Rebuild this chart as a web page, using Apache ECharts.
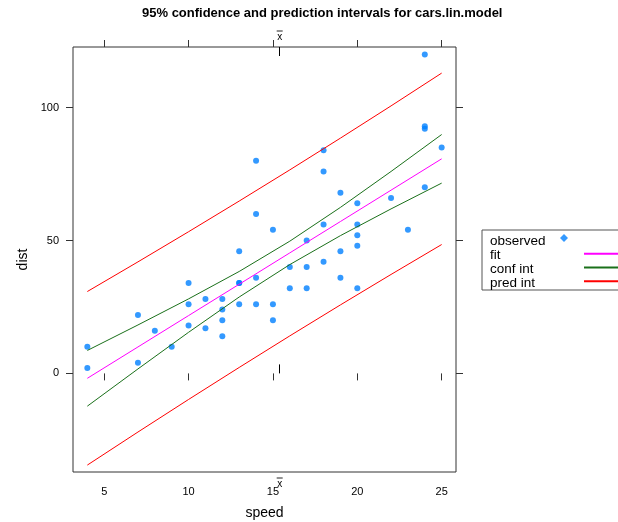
<!DOCTYPE html>
<html>
<head>
<meta charset="utf-8">
<script src="https://cdn.jsdelivr.net/npm/echarts@6/dist/echarts.min.js"></script>
<style>
  html, body { margin: 0; padding: 0; background: #fff; }
  #main { width: 618px; height: 522px; }
</style>
</head>
<body>
<div id="main"></div>
<script>
// observed cars data
const speed = [4, 4, 7, 7, 8, 9, 10, 10, 10, 11, 11, 12, 12, 12, 12, 13, 13, 13, 13, 14, 14, 14, 14,
  15, 15, 15, 16, 16, 17, 17, 17, 18, 18, 18, 18, 19, 19, 19, 20, 20, 20, 20, 20, 22, 23, 24, 24, 24, 24, 25];
const dist = [2, 10, 4, 22, 16, 10, 18, 26, 34, 17, 28, 14, 20, 24, 28, 26, 34, 34, 46, 26, 36, 60, 80,
  20, 26, 54, 32, 40, 32, 40, 50, 42, 56, 76, 84, 36, 46, 68, 32, 48, 52, 56, 64, 66, 54, 70, 92, 93, 120, 85];

// fitted line and intervals, read at these speeds
const lineX = [4, 7, 10, 13, 16, 19, 22, 25];
const fit = [-1.85, 9.95, 21.75, 33.54, 45.34, 57.14, 68.93, 80.73];
const confLo = [-12.33, 1.68, 15.46, 28.73, 40.94, 51.83, 61.89, 71.59];
const confHi = [8.63, 18.22, 28.03, 38.35, 49.74, 62.45, 75.97, 89.87];
const predLo = [-34.5, -22.06, -9.81, 2.24, 14.11, 25.77, 37.22, 48.48];
const predHi = [30.8, 41.96, 53.3, 64.84, 76.57, 88.51, 100.64, 112.98];

const xTicks = [5, 10, 15, 20, 25];
const yTicks = [0, 50, 100];
const xBar = 15.4;

const pair = ys => lineX.map((x, i) => [x, ys[i]]);
const axisCol = '#333';
const font = 'Arial, "Liberation Sans", sans-serif';
const lineIcon = 'path://M0,0H40V2H0Z';

const lineSeries = (name, ys, color) => ({
  name, type: 'line', data: pair(ys), symbol: 'none', silent: true,
  lineStyle: { color, width: 1 }, itemStyle: { color }
});

const xBase = {
  type: 'value', min: 3.15, max: 25.85, gridIndex: 0,
  axisLine: { show: false }, splitLine: { show: false }
};
const yBase = {
  type: 'value', min: -37.1, max: 122.8,
  axisLine: { show: false }, splitLine: { show: false }
};
// x-bar label: a short bar above an x
const barLabel = {
  color: '#000', customValues: [xBar],
  formatter: () => '{o| }\n{x|x}',
  rich: {
    o: { width: 6, height: 1, lineHeight: 4, backgroundColor: '#222', fontSize: 4 },
    x: { fontFamily: font, fontSize: 10, lineHeight: 9, color: '#000' }
  }
};

const chart = echarts.init(document.getElementById('main'));
chart.setOption({
  animation: false,
  title: {
    text: '95% confidence and prediction intervals for cars.lin.model',
    left: 142, top: 7, padding: 0,
    textStyle: { fontFamily: font, fontSize: 13, fontWeight: 'bold', color: '#000' }
  },
  grid: {
    left: 73, right: 162, top: 47, bottom: 50, outerBoundsMode: 'none',
    show: true, borderColor: axisCol, borderWidth: 1, backgroundColor: '#fff'
  },
  legend: [{
    // text column with the box
    orient: 'vertical', left: 482, top: 230,
    data: ['observed', 'fit', 'conf int', 'pred int'],
    icon: 'none', itemWidth: 0, itemHeight: 13.7, itemGap: 0,
    padding: [4, 0, 0, 3],
    borderColor: '#555', borderWidth: 1,
    textStyle: { fontFamily: font, fontSize: 13.5, color: '#000', width: 150, lineHeight: 13.7 },
    selectedMode: false
  }, {
    // line keys
    orient: 'vertical', left: 584, top: 247,
    data: ['fit', 'conf int', 'pred int'],
    icon: lineIcon, itemWidth: 40, itemHeight: 13.7, itemGap: 0, padding: 0,
    formatter: () => ' ',
    textStyle: { fontSize: 10, lineHeight: 13.7 },
    selectedMode: false
  }, {
    // point key
    orient: 'vertical', left: 560, top: 234,
    data: ['observed'], icon: 'diamond',
    itemWidth: 8, itemHeight: 8, padding: 0,
    formatter: () => '',
    selectedMode: false
  }],
  xAxis: [
    Object.assign({}, xBase, {
      position: 'bottom', name: 'speed', nameLocation: 'middle', nameGap: 34,
      nameTextStyle: { fontFamily: font, fontSize: 14, color: '#000' },
      axisTick: { show: true, length: 7, lineStyle: { color: axisCol }, customValues: xTicks },
      axisLabel: { fontFamily: font, fontSize: 11, color: '#000', margin: 14, customValues: xTicks }
    }),
    Object.assign({}, xBase, {
      position: 'bottom',
      axisTick: { show: true, inside: true, length: 9, lineStyle: { color: '#000' }, customValues: [xBar] },
      axisLabel: Object.assign({ margin: 4 }, barLabel)
    }),
    Object.assign({}, xBase, {
      position: 'top',
      axisTick: { show: true, length: 7, lineStyle: { color: axisCol }, customValues: xTicks },
      axisLabel: { show: false }
    }),
    Object.assign({}, xBase, {
      position: 'top',
      axisTick: { show: true, inside: true, length: 9, lineStyle: { color: '#000' }, customValues: [xBar] },
      axisLabel: Object.assign({ margin: 5 }, barLabel)
    })
  ],
  yAxis: [
    Object.assign({}, yBase, {
      position: 'left', name: 'dist', nameLocation: 'middle', nameGap: 41,
      nameTextStyle: { fontFamily: font, fontSize: 14, color: '#000' },
      axisTick: { show: true, length: 7, lineStyle: { color: axisCol }, customValues: yTicks },
      axisLabel: { fontFamily: font, fontSize: 11, color: '#000', margin: 14, customValues: yTicks }
    }),
    Object.assign({}, yBase, {
      position: 'right',
      axisTick: { show: true, length: 7, lineStyle: { color: axisCol }, customValues: yTicks },
      axisLabel: { show: false }
    })
  ],
  series: [
    lineSeries('pred int', predHi, '#ff0000'),
    lineSeries('pred int', predLo, '#ff0000'),
    lineSeries('conf int', confHi, '#1a701a'),
    lineSeries('conf int', confLo, '#1a701a'),
    lineSeries('fit', fit, '#ff00ff'),
    {
      name: 'observed', type: 'scatter', symbol: 'circle', symbolSize: 6,
      data: speed.map((s, i) => [s, dist[i]]),
      itemStyle: { color: '#0080ff' }
    }
  ]
});
</script>
</body>
</html>
